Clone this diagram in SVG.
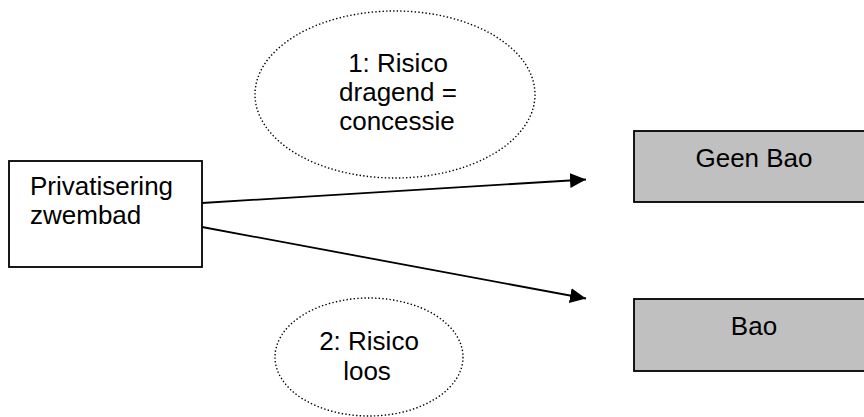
<svg xmlns="http://www.w3.org/2000/svg" width="864" height="417" viewBox="0 0 864 417">
<style>
.t{font-family:"Liberation Sans",Arial,sans-serif;font-size:26px;fill:#000}
.box{stroke:#000;stroke-width:1.8}
.oval{fill:#fff;stroke:#000;stroke-width:1.4;stroke-dasharray:1.4 2.2}
.edge{stroke:#000;stroke-width:1.8;fill:none}
</style>
<defs>
<marker id="ah" markerUnits="userSpaceOnUse" markerWidth="18" markerHeight="16" refX="16" refY="7.5" orient="auto">
<path d="M0,0 L16,7.5 L0,15 Z" fill="#000"/>
</marker>
</defs>
<rect width="864" height="417" fill="#fff"/>
<g id="node-ellipse1">
<ellipse class="oval" cx="395" cy="94.5" rx="140" ry="83.5"/>
<text class="t" x="398" y="72" text-anchor="middle">1: Risico</text>
<text class="t" x="398" y="101" text-anchor="middle">dragend =</text>
<text class="t" x="397" y="130" text-anchor="middle">concessie</text>
</g>
<g id="node-ellipse2">
<ellipse class="oval" cx="369" cy="357" rx="94" ry="59"/>
<text class="t" x="369" y="350" text-anchor="middle">2: Risico</text>
<text class="t" x="367" y="380" text-anchor="middle">loos</text>
</g>
<g id="node-privatisering">
<rect class="box" x="9" y="161" width="193" height="106" fill="#fff"/>
<text class="t" x="30" y="195">Privatisering</text>
<text class="t" x="30" y="224">zwembad</text>
</g>
<g id="node-geenbao">
<rect class="box" x="634" y="131" width="240" height="71" fill="#c0c0c0"/>
<text class="t" x="754" y="167" text-anchor="middle">Geen Bao</text>
</g>
<g id="node-bao">
<rect class="box" x="634" y="299" width="240" height="72" fill="#c0c0c0"/>
<text class="t" x="754" y="335" text-anchor="middle">Bao</text>
</g>
<g id="connectors">
<line class="edge" x1="202" y1="203" x2="586" y2="179.5" marker-end="url(#ah)"/>
<line class="edge" x1="202" y1="227" x2="586" y2="298.5" marker-end="url(#ah)"/>
</g>
</svg>
